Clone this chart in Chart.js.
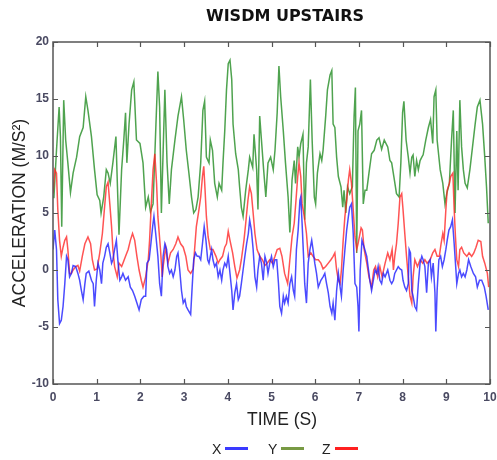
<!DOCTYPE html>
<html>
<head>
<meta charset="utf-8">
<script src="https://cdn.jsdelivr.net/npm/chart.js@4.4.1/dist/chart.umd.min.js"></script>
<style>
  html, body { margin: 0; padding: 0; background: #fff; }
</style>
</head>
<body>
<canvas id="chart" width="497" height="460"></canvas>
<script>
'use strict';

// time ticks and acceleration ticks
const xTickValues = [0, 1, 2, 3, 4, 5, 6, 7, 8, 9, 10];
const yTickValues = [-10, -5, 0, 5, 10, 15, 20];

// X axis of the accelerometer (blue)
const xTimes = [0, 0.04, 0.08, 0.11, 0.15, 0.19, 0.23, 0.27, 0.31, 0.34, 0.38, 0.42, 0.46, 0.52, 0.57, 0.61, 0.65, 0.69, 0.73, 0.76, 0.82, 0.88, 0.92, 0.95, 0.99, 1.03, 1.07, 1.11, 1.14, 1.18, 1.22, 1.26, 1.3, 1.34, 1.37, 1.41, 1.45, 1.49, 1.53, 1.57, 1.6, 1.66, 1.72, 1.77, 1.82, 1.87, 1.92, 1.97, 2.02, 2.08, 2.12, 2.15, 2.2, 2.24, 2.28, 2.31, 2.35, 2.4, 2.44, 2.48, 2.52, 2.56, 2.6, 2.63, 2.67, 2.71, 2.75, 2.79, 2.83, 2.86, 2.9, 2.94, 2.98, 3.02, 3.05, 3.09, 3.15, 3.18, 3.22, 3.26, 3.3, 3.34, 3.38, 3.42, 3.46, 3.5, 3.54, 3.57, 3.63, 3.66, 3.7, 3.74, 3.78, 3.82, 3.86, 3.89, 3.93, 3.97, 4.01, 4.05, 4.09, 4.12, 4.16, 4.2, 4.24, 4.27, 4.31, 4.35, 4.39, 4.43, 4.47, 4.5, 4.54, 4.58, 4.62, 4.66, 4.69, 4.73, 4.77, 4.81, 4.85, 4.89, 4.92, 4.96, 5.0, 5.04, 5.08, 5.12, 5.16, 5.19, 5.23, 5.27, 5.3, 5.34, 5.38, 5.42, 5.46, 5.5, 5.53, 5.57, 5.61, 5.65, 5.67, 5.7, 5.73, 5.76, 5.8, 5.84, 5.88, 5.92, 5.95, 5.99, 6.03, 6.07, 6.13, 6.18, 6.22, 6.26, 6.3, 6.34, 6.38, 6.41, 6.45, 6.49, 6.53, 6.57, 6.6, 6.64, 6.68, 6.72, 6.76, 6.79, 6.83, 6.87, 6.91, 6.95, 6.98, 7.0, 7.03, 7.07, 7.12, 7.18, 7.21, 7.25, 7.29, 7.33, 7.37, 7.41, 7.44, 7.48, 7.52, 7.56, 7.6, 7.66, 7.71, 7.75, 7.79, 7.82, 7.9, 7.94, 7.98, 8.01, 8.05, 8.09, 8.13, 8.15, 8.18, 8.21, 8.24, 8.28, 8.32, 8.36, 8.4, 8.44, 8.47, 8.51, 8.55, 8.59, 8.63, 8.66, 8.7, 8.74, 8.76, 8.79, 8.83, 8.87, 8.91, 8.95, 8.99, 9.02, 9.06, 9.1, 9.14, 9.18, 9.22, 9.24, 9.28, 9.31, 9.35, 9.39, 9.43, 9.47, 9.51, 9.56, 9.62, 9.67, 9.71, 9.76, 9.81, 9.87, 9.91, 9.96];
const xValues = [1.8, 3.5, 1.8, -2.6, -4.7, -4.4, -3.2, -1.2, 1.2, 0.9, -0.6, -0.3, 0.4, 0.3, -0.3, -0.9, -1.8, -2.6, -1.2, -0.3, -0.1, -0.9, -1.2, -3.2, -0.9, 0.6, 0, -1.2, 0.6, 1.2, 2.0, 2.3, 1.5, 0.6, 0.9, 1.8, 2.6, 0.6, -0.9, -0.6, -0.3, -0.9, -0.6, -1.5, -1.8, -2.3, -2.9, -3.5, -2.6, -2.3, -2.3, 0.6, 0.9, 2.3, 3.8, 4.7, 3.2, 1.2, -1.2, -2.3, 1.2, 2.3, 1.8, 0.3, -0.3, 0, -0.6, 0, 1.2, 1.5, 0, -1.8, -2.9, -2.6, -3.2, -3.5, -3.9, -1.8, 0.9, 1.5, 1.2, 1.2, 0.9, 2.3, 3.8, 2.6, 0.9, 0.6, 1.8, 0.9, 0.3, 0.6, -0.6, 0, -0.9, 0, 0.6, 0.3, 1.2, -0.3, -1.8, -3.5, -2.0, -1.2, -2.6, -2.3, -1.2, 0, 1.2, 2.3, 3.2, 4.4, 3.5, 1.8, -0.6, -1.5, 0, 1.2, 0.6, -0.9, 1.2, 0.6, -0.3, 0.6, 1.2, 0.3, 0.9, 0.9, -1.2, -3.2, -3.8, -2.3, -2.9, -2.3, -2.9, -1.2, -0.6, -1.8, -2.3, 1.8, 3.5, 6.1, 6.4, 4.1, 1.5, -1.2, -2.9, 0.6, 1.8, 2.6, 1.8, 0.6, -0.3, -1.5, -0.9, -0.6, -0.3, -1.2, -2.0, -3.2, -3.8, -2.9, -4.4, -1.8, -0.3, -1.5, -2.3, 0, 1.8, 3.5, 4.7, 5.5, 5.8, 3.2, -1.2, -1.5, -3.2, -5.4, 0, 2.6, 2.0, 1.2, 0.3, -0.9, -1.8, -0.9, 0, -0.3, 0.3, -0.9, -1.2, -0.3, -0.6, 0, -0.9, -1.2, -0.9, -0.3, 0.3, 0.1, 0, -0.9, -1.5, -1.8, -1.2, 1.8, 1.5, -1.8, -2.3, -3.2, -3.5, -1.2, 0.6, 1.2, 0.9, 0.3, -2.0, 0.6, 0.9, -0.6, 0.6, -2.0, -5.4, -1.8, 0.9, 1.2, 0.3, 0.9, 1.8, 2.6, 3.5, 3.8, 4.4, 2.3, 0, -1.2, -0.3, 0, -0.6, -0.3, -0.6, 0, 0.9, 0.3, -0.3, -0.6, -1.5, -0.9, -0.9, -1.5, -2.3, -3.5];

// Y axis of the accelerometer (green)
const yTimes = [0.02, 0.08, 0.14, 0.17, 0.2, 0.245, 0.29, 0.34, 0.4, 0.46, 0.54, 0.61, 0.69, 0.75, 0.8, 0.88, 0.95, 1.01, 1.07, 1.1, 1.16, 1.22, 1.26, 1.31, 1.37, 1.44, 1.47, 1.51, 1.57, 1.62, 1.66, 1.69, 1.74, 1.8, 1.85, 1.91, 1.99, 2.06, 2.12, 2.18, 2.23, 2.29, 2.35, 2.4, 2.44, 2.48, 2.56, 2.61, 2.66, 2.71, 2.79, 2.86, 2.94, 2.99, 3.05, 3.11, 3.17, 3.22, 3.27, 3.32, 3.38, 3.43, 3.47, 3.51, 3.57, 3.6, 3.65, 3.7, 3.76, 3.8, 3.86, 3.89, 3.93, 3.97, 4.01, 4.05, 4.09, 4.12, 4.18, 4.24, 4.27, 4.31, 4.35, 4.41, 4.47, 4.5, 4.57, 4.6, 4.66, 4.69, 4.73, 4.77, 4.82, 4.87, 4.92, 4.98, 5.04, 5.08, 5.13, 5.17, 5.21, 5.27, 5.32, 5.38, 5.42, 5.47, 5.52, 5.55, 5.6, 5.63, 5.67, 5.72, 5.76, 5.8, 5.84, 5.89, 5.93, 5.98, 6.01, 6.05, 6.11, 6.15, 6.18, 6.24, 6.28, 6.34, 6.38, 6.41, 6.45, 6.49, 6.53, 6.59, 6.63, 6.66, 6.7, 6.74, 6.79, 6.85, 6.89, 6.92, 6.95, 6.98, 7.02, 7.06, 7.1, 7.14, 7.18, 7.23, 7.29, 7.35, 7.41, 7.46, 7.52, 7.58, 7.66, 7.71, 7.75, 7.8, 7.86, 7.92, 7.96, 8.0, 8.03, 8.08, 8.13, 8.17, 8.21, 8.24, 8.28, 8.32, 8.36, 8.4, 8.44, 8.47, 8.53, 8.59, 8.64, 8.69, 8.72, 8.76, 8.79, 8.86, 8.92, 8.97, 9.01, 9.07, 9.12, 9.16, 9.2, 9.24, 9.27, 9.31, 9.35, 9.39, 9.43, 9.48, 9.54, 9.6, 9.66, 9.71, 9.77, 9.83, 9.88, 9.92, 9.96];
const yValues = [6.3, 10.5, 14.3, 11.7, 3.8, 14.9, 11.4, 9.4, 6.8, 8.5, 9.9, 11.7, 12.5, 15.2, 14.0, 11.7, 8.8, 6.6, 6.1, 5.0, 6.4, 8.8, 8.5, 7.6, 9.4, 11.7, 7.9, 3.1, 8.8, 11.4, 13.8, 9.4, 12.8, 15.8, 16.5, 11.4, 11.1, 9.4, 5.5, 6.4, 5.1, 5.8, 12.2, 17.4, 14.3, 5.0, 15.8, 9.4, 5.8, 8.8, 11.4, 13.5, 15.2, 13.2, 10.5, 8.5, 6.4, 5.0, 5.3, 6.4, 9.4, 14.0, 14.8, 9.9, 9.4, 11.4, 10.5, 7.6, 6.4, 7.6, 7.0, 9.4, 12.2, 15.8, 18.1, 18.4, 16.7, 12.8, 10.2, 8.8, 7.3, 5.5, 4.7, 7.0, 8.8, 9.9, 9.0, 11.9, 8.8, 5.3, 13.5, 11.4, 8.8, 6.4, 9.4, 9.9, 8.8, 10.5, 13.8, 17.9, 15.2, 12.2, 9.4, 6.4, 3.3, 7.9, 9.6, 7.6, 10.8, 9.9, 11.1, 11.9, 4.4, 9.4, 10.8, 16.7, 11.4, 6.4, 5.8, 8.5, 10.2, 9.6, 10.5, 13.5, 15.8, 17.1, 17.5, 12.8, 12.5, 9.9, 8.2, 7.3, 5.5, 7.0, 5.0, 7.3, 6.7, 7.3, 13.5, 16.0, 1.5, 12.2, 12.8, 14.0, 5.8, 7.0, 7.0, 8.5, 10.2, 10.5, 11.4, 11.6, 10.6, 11.4, 10.8, 9.6, 9.4, 8.2, 6.7, 6.4, 9.4, 13.8, 14.8, 11.4, 9.9, 8.5, 9.9, 10.1, 8.2, 9.6, 8.8, 9.6, 9.9, 10.1, 11.4, 12.5, 13.2, 11.1, 15.2, 15.8, 11.4, 8.8, 7.6, 5.8, 6.7, 7.6, 11.4, 14.0, 5.0, 12.2, 7.0, 14.9, 10.8, 8.8, 7.6, 7.2, 8.8, 10.8, 12.8, 14.3, 14.9, 12.8, 9.9, 7.3, 4.1];

// Z axis of the accelerometer (red)
const zTimes = [0, 0.04, 0.08, 0.11, 0.15, 0.19, 0.23, 0.27, 0.31, 0.34, 0.38, 0.42, 0.46, 0.52, 0.57, 0.61, 0.67, 0.73, 0.8, 0.86, 0.9, 0.95, 1.01, 1.07, 1.13, 1.18, 1.22, 1.26, 1.3, 1.34, 1.37, 1.41, 1.47, 1.51, 1.57, 1.6, 1.66, 1.72, 1.77, 1.82, 1.87, 1.92, 1.97, 2.02, 2.06, 2.12, 2.18, 2.21, 2.25, 2.29, 2.33, 2.37, 2.4, 2.46, 2.5, 2.52, 2.58, 2.63, 2.69, 2.75, 2.81, 2.86, 2.92, 2.98, 3.04, 3.09, 3.15, 3.21, 3.24, 3.28, 3.34, 3.38, 3.42, 3.45, 3.48, 3.51, 3.55, 3.6, 3.66, 3.73, 3.78, 3.82, 3.88, 3.93, 3.97, 4.01, 4.05, 4.11, 4.16, 4.21, 4.27, 4.31, 4.37, 4.41, 4.46, 4.5, 4.54, 4.58, 4.62, 4.67, 4.73, 4.79, 4.85, 4.9, 4.96, 5.02, 5.08, 5.13, 5.19, 5.24, 5.3, 5.37, 5.42, 5.47, 5.52, 5.56, 5.6, 5.63, 5.67, 5.7, 5.75, 5.8, 5.84, 5.9, 5.95, 6.01, 6.07, 6.13, 6.18, 6.24, 6.3, 6.36, 6.41, 6.45, 6.49, 6.53, 6.57, 6.6, 6.64, 6.68, 6.72, 6.76, 6.79, 6.83, 6.87, 6.91, 6.95, 6.98, 7.05, 7.08, 7.12, 7.18, 7.23, 7.29, 7.34, 7.38, 7.43, 7.48, 7.53, 7.6, 7.66, 7.71, 7.76, 7.79, 7.82, 7.86, 7.9, 7.94, 7.98, 8.01, 8.05, 8.09, 8.13, 8.17, 8.21, 8.24, 8.28, 8.34, 8.4, 8.46, 8.51, 8.56, 8.63, 8.69, 8.74, 8.79, 8.84, 8.88, 8.92, 8.95, 8.99, 9.02, 9.07, 9.1, 9.15, 9.18, 9.21, 9.24, 9.28, 9.31, 9.35, 9.4, 9.47, 9.52, 9.58, 9.63, 9.68, 9.73, 9.79, 9.83, 9.88, 9.94, 9.97];
const zValues = [6.7, 8.8, 8.5, 5.3, 2.6, 1.2, 2.0, 2.6, 2.9, 1.8, -0.3, -0.3, 0, 0.3, 0.4, -0.1, 1.2, 2.3, 2.9, 2.3, 0.9, 0, 0.1, 1.5, 3.2, 5.5, 7.3, 7.7, 5.8, 3.8, 1.8, 0.3, -0.6, 0.6, 0.3, 0.6, 1.2, 1.8, 2.6, 3.2, 2.6, 1.2, 0, -0.9, -1.5, -0.6, 0.9, 2.6, 5.8, 8.8, 10.2, 7.6, 4.7, 1.8, -0.6, 0.3, 2.0, 0.6, 1.5, 1.8, 2.3, 2.9, 2.3, 2.0, 1.2, 0, -0.3, 0.1, 1.8, 3.8, 5.3, 6.4, 8.2, 9.1, 7.0, 4.7, 2.9, 1.8, 1.8, 1.2, 0.6, 0.9, 1.2, 2.0, 2.3, 3.4, 2.6, 1.5, 0.3, -0.7, 0, 0.9, 2.6, 4.1, 6.1, 7.3, 6.7, 5.0, 3.2, 1.8, 1.2, 0.9, 0.4, 0.6, 0.9, 0.6, 1.2, 1.8, 1.9, 1.2, -0.3, -1.2, 0.9, 2.9, 4.1, 6.1, 8.2, 9.4, 8.2, 5.8, 4.7, 3.2, 1.2, 1.5, 1.2, 0.9, 0.9, 0.6, 0.1, 0.3, 0.6, 0.9, 1.2, 1.5, 0, -0.9, -1.2, 0, 2.6, 4.7, 6.1, 7.9, 8.8, 7.6, 5.3, 2.9, 1.8, 2.3, 3.7, 3.5, 1.8, 0.6, -0.6, -1.5, 0, 0.3, -0.6, 0.3, -0.6, 0.6, 1.5, 0.9, 1.8, 0, 1.2, 2.3, 4.1, 6.4, 6.7, 5.3, 3.2, 1.2, -0.6, -2.3, -2.9, -0.6, 0.9, 0.3, 0.9, 0.6, 0.9, 0.6, 0.9, 1.5, 1.8, 1.2, 1.2, 2.3, 3.2, 2.6, 5.3, 7.0, 7.6, 8.2, 8.5, 5.3, 2.9, 0.9, 0.3, 1.8, 2.0, 1.5, 1.2, 1.5, 1.2, 1.5, 2.0, 2.6, 2.5, 1.2, 0.6, -0.3, -1.5];

const seriesNames = ['X', 'Y', 'Z'];
const lineColors = ['rgba(35, 35, 255, 0.82)', 'rgba(35, 140, 35, 0.8)', 'rgba(255, 35, 35, 0.78)'];
const legendColors = ['#3a3aff', '#789a44', '#ff2020'];

const toPoints = (times, values) => times.map((t, i) => ({ x: t, y: values[i] }));

const AREA = { left: 53, right: 490, top: 42, bottom: 384 };
const tickColor = '#4a4a62';

// frame, inward ticks, title, x label and legend
const decorations = {
  id: 'decorations',
  afterDatasetsDraw(chart) {
    const { ctx, chartArea: a, scales } = chart;
    ctx.save();
    ctx.strokeStyle = '#555';
    ctx.lineWidth = 1.5;
    ctx.strokeRect(a.left, a.top, a.right - a.left, a.bottom - a.top);
    ctx.lineWidth = 1.2;
    ctx.beginPath();
    xTickValues.forEach(v => {
      const px = Math.round(scales.x.getPixelForValue(v)) + 0.5;
      ctx.moveTo(px, a.bottom); ctx.lineTo(px, a.bottom - 5);
      ctx.moveTo(px, a.top); ctx.lineTo(px, a.top + 5);
    });
    yTickValues.forEach(v => {
      const py = Math.round(scales.y.getPixelForValue(v)) + 0.5;
      ctx.moveTo(a.left, py); ctx.lineTo(a.left + 5, py);
      ctx.moveTo(a.right, py); ctx.lineTo(a.right - 5, py);
    });
    ctx.stroke();

    ctx.fillStyle = '#111';
    ctx.textAlign = 'center';
    ctx.textBaseline = 'middle';
    ctx.font = 'bold 16px "DejaVu Sans"';
    ctx.fillText('WISDM UPSTAIRS', 285, 17);

    ctx.fillStyle = '#222';
    ctx.font = '17.5px "Liberation Sans"';
    ctx.fillText('TIME (S)', 282, 420);

    // legend: label, then a short line
    ctx.font = '14px "Liberation Sans"';
    ctx.textAlign = 'left';
    const startX = [212, 268, 322];
    seriesNames.forEach((name, i) => {
      ctx.fillStyle = '#222';
      ctx.fillText(name, startX[i], 450);
      ctx.strokeStyle = legendColors[i];
      ctx.lineWidth = 3;
      ctx.beginPath();
      ctx.moveTo(startX[i] + 13, 448.5);
      ctx.lineTo(startX[i] + 36, 448.5);
      ctx.stroke();
    });
    ctx.restore();
  }
};

new Chart(document.getElementById('chart'), {
  type: 'line',
  data: {
    datasets: [
      { label: 'Y', data: toPoints(yTimes, yValues), borderColor: lineColors[1], order: 3 },
      { label: 'Z', data: toPoints(zTimes, zValues), borderColor: lineColors[2], order: 2 },
      { label: 'X', data: toPoints(xTimes, xValues), borderColor: lineColors[0], order: 1 }
    ]
  },
  options: {
    responsive: false,
    animation: false,
    layout: { padding: { left: 0, right: 0, top: AREA.top, bottom: 0 } },
    elements: {
      point: { radius: 0 },
      line: { borderWidth: 1.5, tension: 0 }
    },
    plugins: {
      legend: { display: false },
      title: { display: false },
      tooltip: { enabled: false }
    },
    scales: {
      x: {
        type: 'linear',
        min: 0,
        max: 10,
        afterFit: s => { s.height = 460 - AREA.bottom; s.paddingRight = 497 - AREA.right; },
        afterBuildTicks: s => { s.ticks = xTickValues.map(v => ({ value: v })); },
        grid: { display: false, drawTicks: false },
        border: { display: false },
        ticks: { padding: 6, color: tickColor, font: { family: 'Liberation Sans', size: 12, weight: 'bold' } }
      },
      y: {
        min: -10,
        max: 20,
        afterFit: s => { s.width = AREA.left; },
        afterBuildTicks: s => { s.ticks = yTickValues.map(v => ({ value: v })); },
        grid: { display: false, drawTicks: false },
        border: { display: false },
        ticks: { padding: 4, color: tickColor, font: { family: 'Liberation Sans', size: 12, weight: 'bold' } },
        title: {
          display: true,
          text: 'ACCELERATION (M/S²)',
          color: '#222',
          padding: { top: 10, bottom: 0 },
          font: { family: 'Liberation Sans', size: 17.5 }
        }
      }
    }
  },
  plugins: [decorations]
});
</script>
</body>
</html>
